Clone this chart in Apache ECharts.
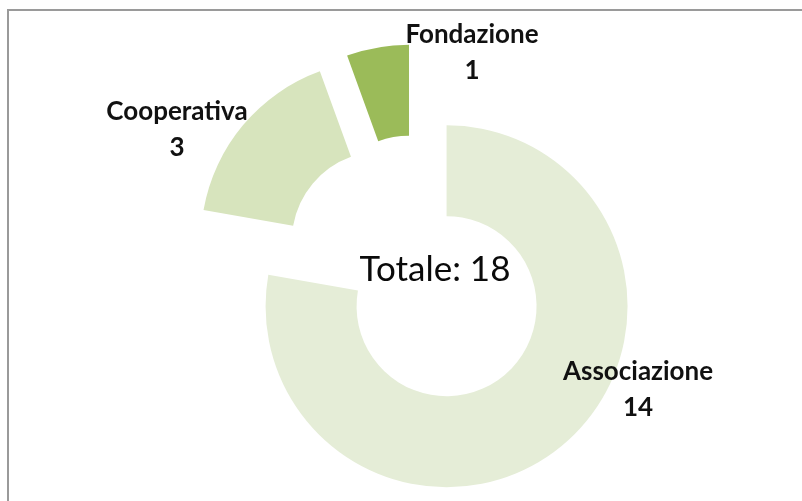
<!DOCTYPE html>
<html>
<head>
<meta charset="utf-8">
<script src="https://cdn.jsdelivr.net/npm/echarts@6/dist/echarts.min.js"></script>
<style>
html,body{margin:0;padding:0;background:#fff;}
#chart{width:802px;height:501px;}
</style>
</head>
<body>
<div id="chart"></div>
<script>
// ---- data ----
const categories = ['Associazione', 'Cooperativa', 'Fondazione'];
const values = [14, 3, 1];
const totalText = 'Totale: ' + values.reduce((a, b) => a + b, 0);

// ---- style / layout ----
const colors = ['#e5edd7', '#d7e4bd', '#9bbb59'];
const labelPos = [[638, 390], [177, 130], [472, 53]];
const FONT = 'Lato, "Open Sans", sans-serif';

const chart = echarts.init(document.getElementById('chart'), null, {renderer: 'canvas'});

const labelGraphics = categories.map((c, i) => ({
  type: 'text',
  x: labelPos[i][0],
  y: labelPos[i][1],
  z: 100,
  silent: true,
  style: {
    text: c + '\n' + values[i],
    fontFamily: FONT,
    fontWeight: 'bold',
    fontSize: 26,
    lineHeight: 36,
    fill: '#111111',
    align: 'center',
    verticalAlign: 'middle'
  }
}));

const option = {
  backgroundColor: '#ffffff',
  animation: false,
  graphic: [
    {
      type: 'rect',
      z: 0,
      shape: {x: 8, y: 10, width: 900, height: 600},
      style: {fill: 'none', stroke: '#9a9a9a', lineWidth: 2},
      silent: true
    },
    {
      type: 'text',
      x: 435, y: 270,
      z: 100,
      style: {
        text: totalText,
        fontFamily: FONT,
        fontSize: 35,
        fill: '#0a0a0a',
        align: 'center',
        verticalAlign: 'middle'
      },
      silent: true
    }
  ].concat(labelGraphics),
  series: [{
    type: 'pie',
    z: 2,
    center: [417, 271],
    radius: [90, 181],
    startAngle: 90,
    clockwise: true,
    selectedMode: 'multiple',
    selectedOffset: 46,
    avoidLabelOverlap: false,
    emphasis: {disabled: true},
    itemStyle: {borderWidth: 0},
    label: {show: false},
    labelLine: {show: false},
    data: categories.map((c, i) => ({
      name: c,
      value: values[i],
      selected: true,
      itemStyle: {color: colors[i]}
    }))
  }]
};
chart.setOption(option);
</script>
</body>
</html>
